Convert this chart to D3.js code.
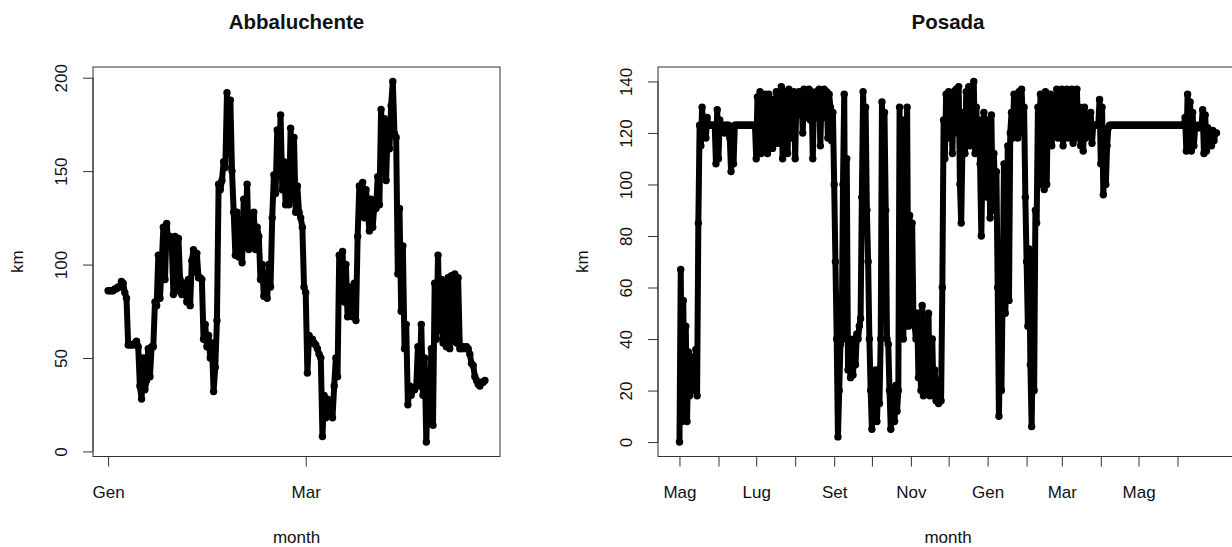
<!DOCTYPE html>
<html>
<head>
<meta charset="utf-8">
<script src="https://cdn.jsdelivr.net/npm/d3@7"></script>
<style>
body { margin: 0; background: #fff; }
text { font-family: "Liberation Sans", Arial, sans-serif; fill: #111; }
</style>
</head>
<body>
<svg></svg>
<script>
var WIDTH = 1232;
var HEIGHT = 547;

// Abbaluchente: one reading every 12 hours from 1 Jan
var abbaStart = '2019-01-01';
var abbaStepHours = 12;
var abbaKm = [
    86,86,86,86,87,87,88,88,91,90,
    85,82,57,57,57,57,58,59,56,35,
    28,50,33,38,55,40,56,56,80,78,
    105,82,100,120,92,122,110,115,112,84,
    115,86,114,92,84,90,90,80,92,78,
    102,108,96,106,93,93,92,60,68,56,
    62,50,58,32,45,70,143,140,145,155,
    152,192,160,188,150,128,105,128,104,122,
    101,135,110,143,108,118,110,128,108,120,
    115,92,100,83,88,82,100,88,125,148,
    138,172,150,180,140,155,132,150,132,173,
    135,168,128,142,128,125,120,88,85,42,
    62,58,60,58,57,55,52,50,8,30,
    18,28,20,26,18,35,50,40,105,85,
    107,80,100,72,88,85,72,90,70,115,
    142,128,144,125,140,130,118,135,120,132,
    130,147,132,183,160,178,145,175,162,185,
    198,170,168,95,130,75,110,55,68,25,
    35,30,34,33,35,56,35,68,30,50,
    5,38,15,55,14,90,60,105,65,92,
    58,90,56,93,55,94,60,95,58,93,
    55,55,56,55,56,55,52,47,46,40,
    38,36,35,37,37,38
];
var abbaTickDates = ['2019-01-01', '2019-03-01'];
var abbaTickLabels = ['Gen', 'Mar'];
var abbaYTicks = [0, 50, 100, 150, 200];

// Posada: one reading per day from 1 May
var posadaStart = '2018-05-01';
var posadaStepHours = 24;
var posadaKm = [
    0,67,8,55,12,45,8,35,18,33,
    20,33,20,36,18,85,123,115,130,120,
    123,118,126,123,123,123,123,123,123,108,
    129,110,125,123,123,123,120,123,123,123,
    118,105,122,108,123,123,123,123,123,123,
    123,123,123,123,123,123,123,123,123,123,
    123,110,134,118,136,112,130,120,135,115,
    112,135,118,133,114,128,122,136,116,130,
    118,138,110,136,120,134,112,137,125,132,
    118,136,110,134,127,136,128,135,120,137,
    126,136,130,137,125,136,110,134,128,136,
    126,137,115,135,128,137,126,136,118,135,
    130,117,128,100,70,40,2,20,38,42,
    100,135,40,110,28,40,25,38,26,40,
    30,42,40,45,48,95,136,110,130,90,
    70,40,20,5,25,10,28,8,22,15,
    40,132,60,128,90,40,38,20,5,15,
    20,8,22,12,20,130,60,125,40,120,
    90,130,45,88,50,85,48,45,40,50,
    25,50,20,53,18,45,30,20,50,18,
    22,40,18,28,16,24,15,20,16,60,
    125,110,135,118,136,120,133,112,136,122,
    137,120,138,100,85,115,128,112,136,120,
    138,115,137,120,140,112,130,115,125,108,
    80,110,128,100,125,95,118,87,127,90,
    112,95,105,60,10,40,20,60,108,50,
    62,115,55,120,128,118,135,120,133,118,
    136,120,137,125,130,95,70,45,75,30,
    6,40,20,90,85,130,100,135,110,132,
    98,136,100,132,120,135,115,134,122,130,
    137,118,136,122,137,115,133,120,137,118,
    136,122,137,116,134,125,137,118,130,115,
    125,113,130,118,123,123,123,128,116,123,
    123,123,123,123,133,108,130,96,118,100,
    115,122,123,123,123,123,123,123,123,123,
    123,123,123,123,123,123,123,123,123,123,
    123,123,123,123,123,123,123,123,123,123,
    123,123,123,123,123,123,123,123,123,123,
    123,123,123,123,123,123,123,123,123,123,
    123,123,123,123,123,123,123,123,123,123,
    123,123,126,113,135,115,132,113,128,115,
    122,122,123,122,123,122,129,112,127,113,
    122,116,121,115,121,117,120,120
];
var posadaTickDates = ['2018-05-01','2018-06-01','2018-07-01','2018-08-01','2018-09-01',
    '2018-10-01','2018-11-01','2018-12-01','2019-01-01','2019-02-01','2019-03-01',
    '2019-04-01','2019-05-01','2019-06-01'];
var posadaTickLabels = ['Mag','','Lug','','Set','','Nov','','Gen','','Mar','','Mag',''];
var posadaYTicks = [0, 20, 40, 60, 80, 100, 120, 140];

var parseDate = d3.utcParse('%Y-%m-%d');

var svg = d3.select('svg')
    .attr('width', WIDTH)
    .attr('height', HEIGHT);

function toPoints(start, stepHours, km) {
    var t0 = parseDate(start);
    return km.map(function(v, i) {
        return {date: d3.utcHour.offset(t0, i * stepHours), km: v};
    });
}

function drawPanel(cfg) {
    var g = svg.append('g');
    var data = toPoints(cfg.start, cfg.stepHours, cfg.km);

    // R style: 4% padding on both ends of the data range
    var xExt = d3.extent(data, function(d) { return d.date; });
    var xPad = (xExt[1] - xExt[0]) * 0.04;
    var xScale = d3.scaleUtc()
        .domain([new Date(+xExt[0] - xPad), new Date(+xExt[1] + xPad)])
        .range([cfg.left, cfg.right]);
    var yExt = d3.extent(data, function(d) { return d.km; });
    var yPad = (yExt[1] - yExt[0]) * 0.04;
    var yScale = d3.scaleLinear()
        .domain([yExt[0] - yPad, yExt[1] + yPad])
        .range([cfg.bottom, cfg.top]);

    var line = d3.line()
        .x(function(d) { return xScale(d.date); })
        .y(function(d) { return yScale(d.km); });

    g.append('path')
        .datum(data)
        .attr('d', line)
        .attr('fill', 'none')
        .attr('stroke', '#000')
        .attr('stroke-width', 6)
        .attr('stroke-linejoin', 'round')
        .attr('stroke-linecap', 'round');

    g.selectAll('circle')
        .data(data)
        .enter()
        .append('circle')
        .attr('cx', function(d) { return xScale(d.date); })
        .attr('cy', function(d) { return yScale(d.km); })
        .attr('r', 3.7)
        .attr('fill', '#000');

    g.append('rect')
        .attr('x', cfg.left)
        .attr('y', cfg.top)
        .attr('width', cfg.right - cfg.left)
        .attr('height', cfg.bottom - cfg.top)
        .attr('fill', 'none')
        .attr('stroke', '#333')
        .attr('stroke-width', 1);

    // left axis, labels turned like R's las=0
    var leftAxis = d3.axisLeft(yScale)
        .tickValues(cfg.yTicks)
        .tickSize(10)
        .tickSizeOuter(0);
    var ly = g.append('g')
        .attr('transform', 'translate(' + cfg.left + ',0)')
        .call(leftAxis);
    ly.select('.domain').remove();
    ly.selectAll('line').attr('stroke', '#333');
    ly.selectAll('text')
        .attr('transform', 'rotate(-90)')
        .attr('x', 0)
        .attr('y', -26)
        .attr('dy', 0)
        .style('text-anchor', 'middle')
        .style('font-size', '17px')
        .style('font-family', '"Liberation Sans", Arial, sans-serif');
    ly.append('line')
        .attr('x1', 0).attr('x2', 0)
        .attr('y1', yScale(cfg.yTicks[0]))
        .attr('y2', yScale(cfg.yTicks[cfg.yTicks.length - 1]))
        .attr('stroke', '#333');

    var tickDates = cfg.tickDates.map(parseDate);
    var bottomAxis = d3.axisBottom(xScale)
        .tickValues(tickDates)
        .tickFormat(function(d, i) { return cfg.tickLabels[i]; })
        .tickSize(10)
        .tickSizeOuter(0);
    var bx = g.append('g')
        .attr('transform', 'translate(0,' + cfg.bottom + ')')
        .call(bottomAxis);
    bx.select('.domain').remove();
    bx.selectAll('line').attr('stroke', '#333');
    bx.selectAll('text')
        .attr('y', 41)
        .attr('dy', 0)
        .style('font-size', '17px')
        .style('font-family', '"Liberation Sans", Arial, sans-serif');
    bx.append('line')
        .attr('y1', 0).attr('y2', 0)
        .attr('x1', xScale(tickDates[0]))
        .attr('x2', xScale(tickDates[tickDates.length - 1]))
        .attr('stroke', '#333');

    var cx = (cfg.left + cfg.right) / 2;
    g.append('text')
        .attr('x', cx)
        .attr('y', 29)
        .attr('text-anchor', 'middle')
        .style('font-size', '20.5px')
        .style('font-weight', 'bold')
        .text(cfg.title);

    g.append('text')
        .attr('x', cx)
        .attr('y', 543)
        .attr('text-anchor', 'middle')
        .style('font-size', '17px')
        .text('month');

    g.append('text')
        .attr('transform', 'translate(' + (cfg.left - 70) + ',' + ((cfg.top + cfg.bottom) / 2) + ') rotate(-90)')
        .attr('text-anchor', 'middle')
        .style('font-size', '17px')
        .text('km');
}

drawPanel({
    title: 'Abbaluchente',
    start: abbaStart, stepHours: abbaStepHours, km: abbaKm,
    tickDates: abbaTickDates, tickLabels: abbaTickLabels, yTicks: abbaYTicks,
    left: 93, right: 500, top: 67, bottom: 456.5
});

drawPanel({
    title: 'Posada',
    start: posadaStart, stepHours: posadaStepHours, km: posadaKm,
    tickDates: posadaTickDates, tickLabels: posadaTickLabels, yTicks: posadaYTicks,
    left: 658, right: 1238, top: 67, bottom: 456.5
});
</script>
</body>
</html>
